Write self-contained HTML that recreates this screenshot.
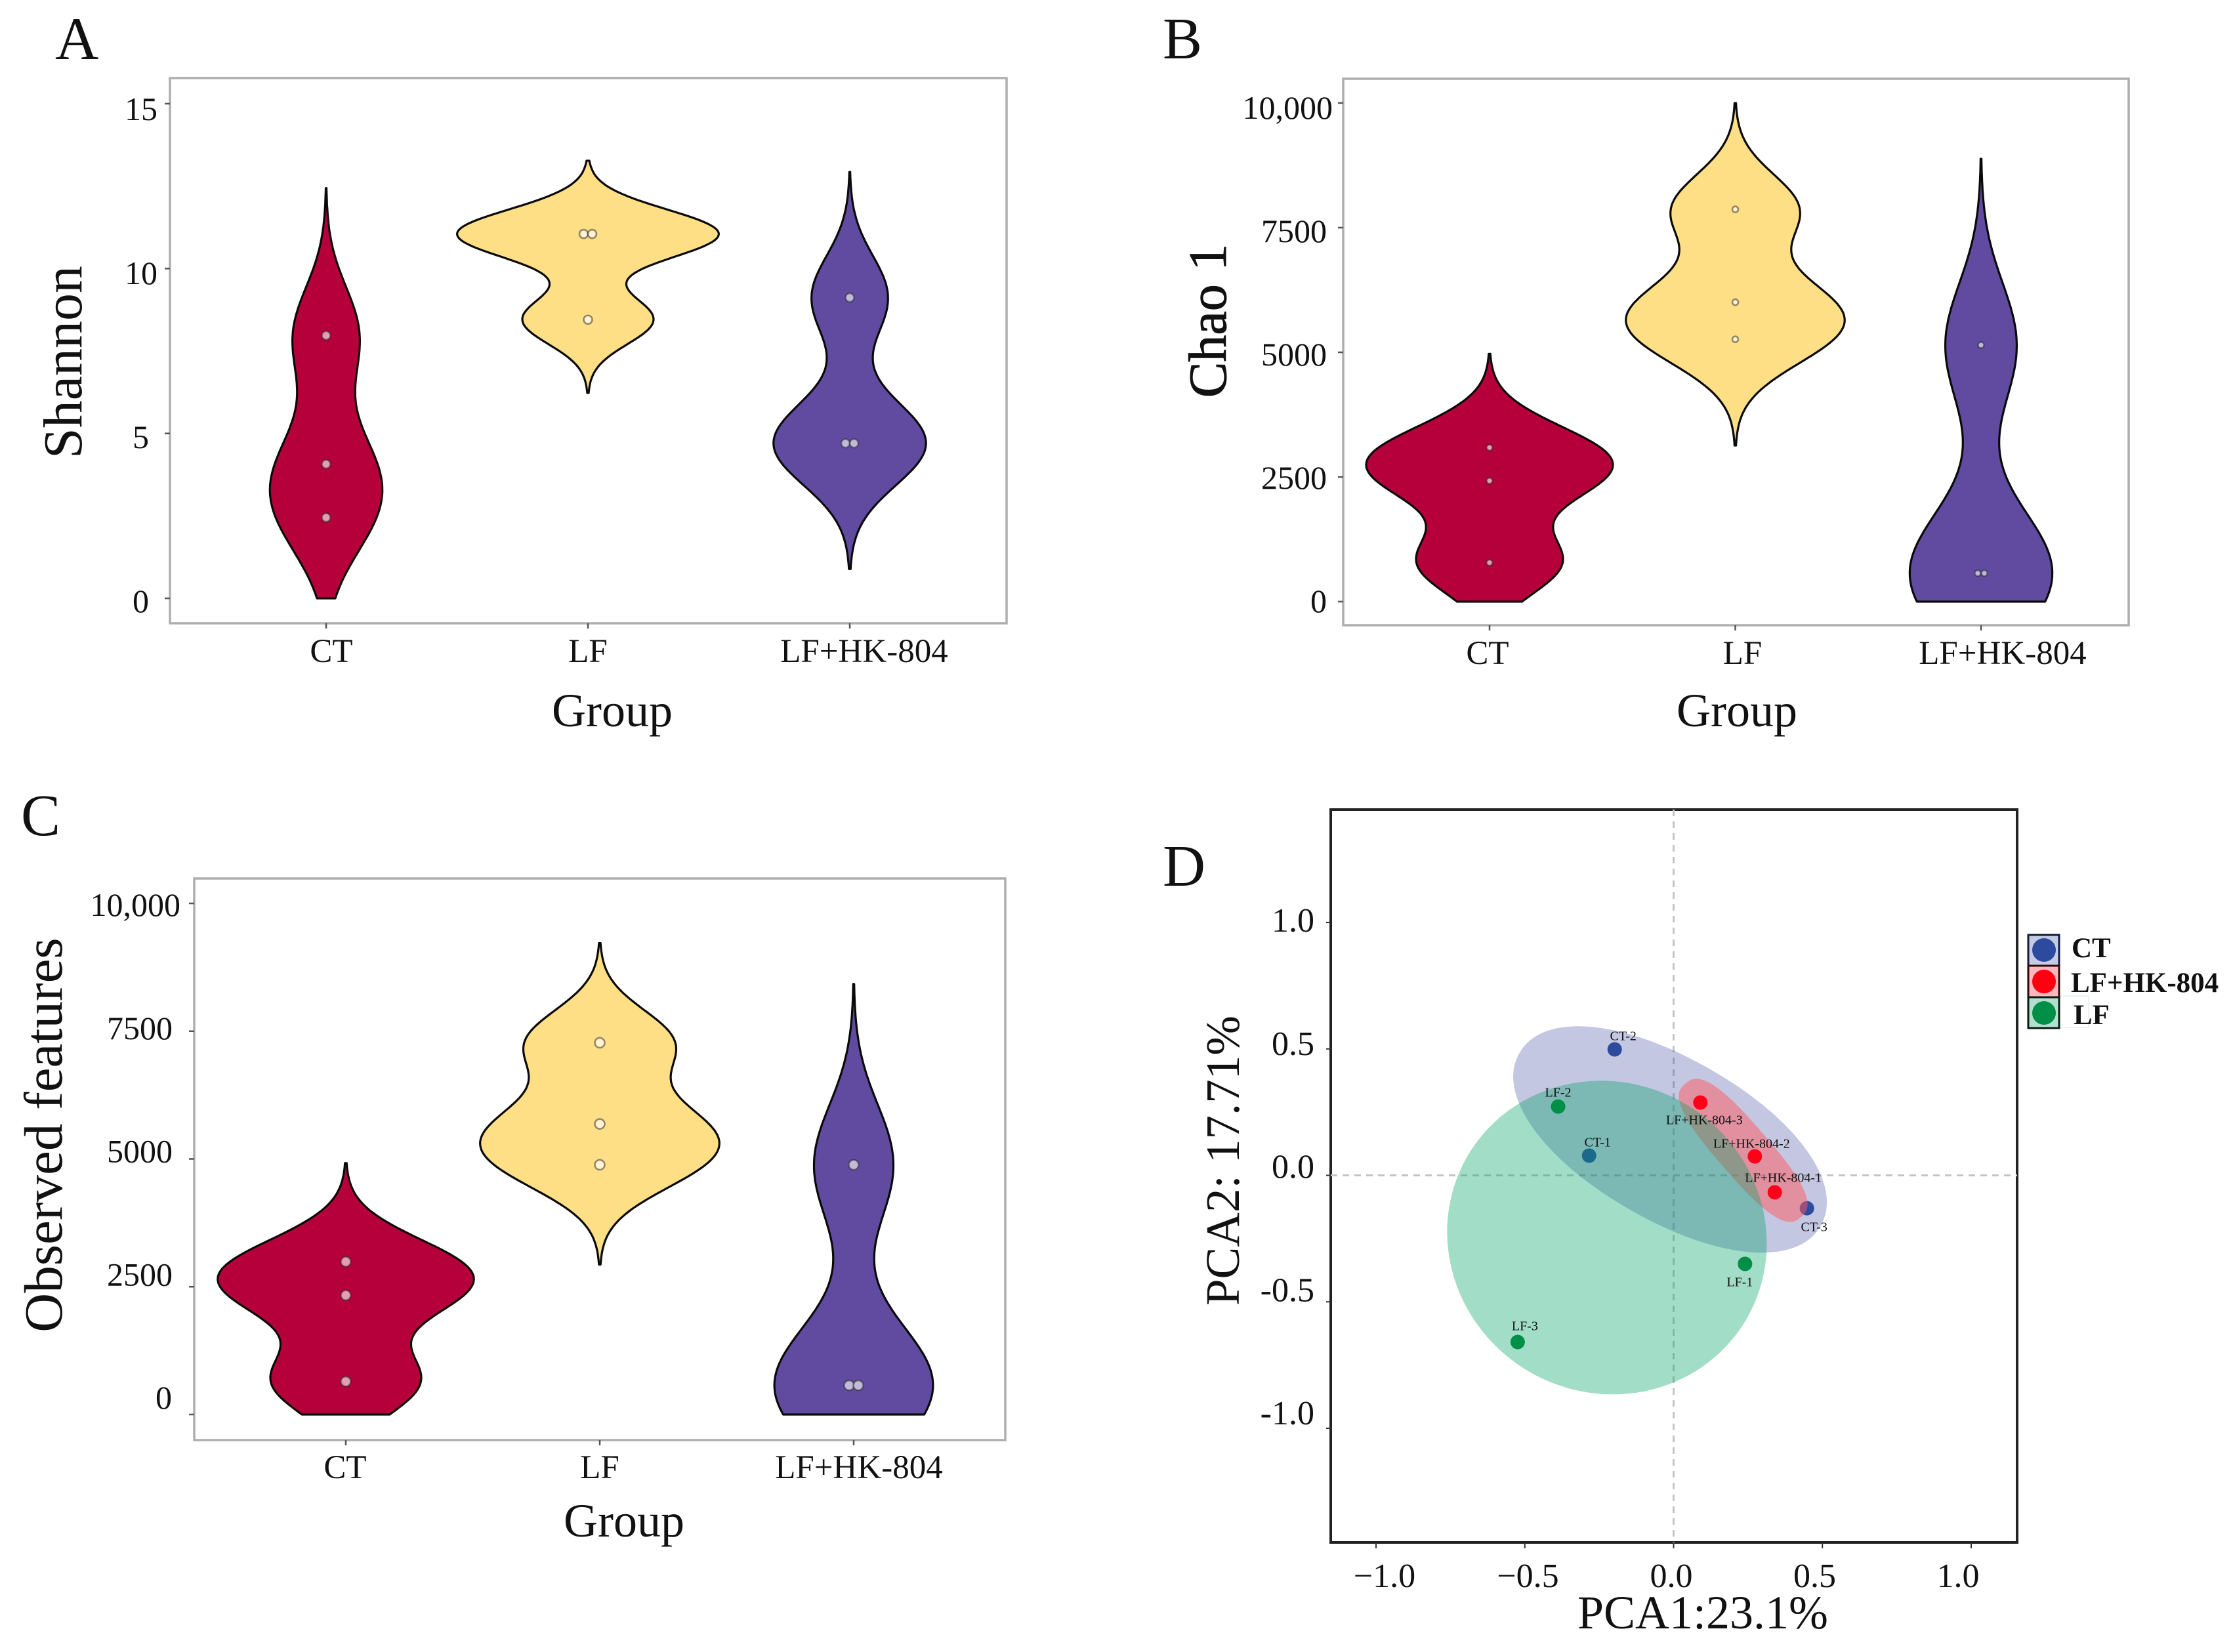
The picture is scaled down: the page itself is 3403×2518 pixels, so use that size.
<!DOCTYPE html>
<html lang="en">
<head>
<meta charset="utf-8">
<title>Alpha diversity violins and PCA</title>
<style>
html,body{margin:0;padding:0;background:#fff;}
svg{display:block;}
text{font-family:"Liberation Serif",serif;fill:#111;}
</style>
</head>
<body>
<svg id="figure" xmlns="http://www.w3.org/2000/svg" width="3403" height="2518" viewBox="0 0 3403 2518">
  <rect x="0" y="0" width="3403" height="2518" fill="#fff"/>

  <text x="84" y="90" font-size="92">A</text>
  <text x="1772" y="89" font-size="90">B</text>
  <text x="32" y="1273" font-size="90">C</text>
  <text x="1772" y="1350" font-size="90">D</text>

  <rect x="259" y="119" width="1275" height="831" fill="#fff" stroke="#aeaeae" stroke-width="3.5"/>
  <rect x="2047" y="120" width="1197" height="833" fill="#fff" stroke="#aeaeae" stroke-width="3.5"/>
  <rect x="296" y="1339" width="1236" height="856" fill="#fff" stroke="#aeaeae" stroke-width="3.5"/>
  <rect x="2028" y="1234" width="1046" height="1117" fill="#fff" stroke="#222" stroke-width="4"/>

  <g id="panel-a"></g>
  <g id="panel-b"></g>
  <g id="panel-c"></g>
  <g id="panel-d"></g>

  <text transform="translate(124,552) rotate(-90)" font-size="84" text-anchor="middle">Shannon</text>
  <text x="933" y="1107" font-size="72" text-anchor="middle">Group</text>
  <text transform="translate(1868,489) rotate(-90)" font-size="82" text-anchor="middle" stroke="#111" stroke-width="1">Chao 1</text>
  <text x="2647" y="1107" font-size="72" text-anchor="middle">Group</text>
  <text transform="translate(94,1730) rotate(-90)" font-size="83" text-anchor="middle">Observed features</text>
  <text x="951" y="2342" font-size="72" text-anchor="middle">Group</text>
  <text transform="translate(1888,1769) rotate(-90)" font-size="73" text-anchor="middle">PCA2: 17.71%</text>
  <text x="2595" y="2482" font-size="72" text-anchor="middle">PCA1:23.1%</text>

  <g>
    <rect x="3139" y="1518" width="44" height="48" fill="none" stroke="#e6eeea" stroke-width="1.5"/>
    <g>
      <rect x="3091" y="1425" width="47" height="47" fill="#c4cbe4" stroke="#141a3c" stroke-width="3"/>
      <circle cx="3115" cy="1448" r="18" fill="#2c4a9e"/>
      <text x="3157" y="1459" font-size="43" font-weight="bold">CT</text>
    </g>
    <g>
      <rect x="3091" y="1472" width="47" height="48" fill="#ffb6bd" stroke="#2a0a0a" stroke-width="3"/>
      <circle cx="3115" cy="1496" r="18" fill="#ff0010"/>
      <text x="3156" y="1512" font-size="43" font-weight="bold">LF+HK-804</text>
    </g>
    <g>
      <rect x="3091" y="1520" width="47" height="47" fill="#b2e0cf" stroke="#0a1a12" stroke-width="3"/>
      <circle cx="3115" cy="1544" r="18" fill="#008f47"/>
      <text x="3160" y="1561" font-size="43" font-weight="bold">LF</text>
    </g>
  </g>
</svg>

<script>
/* ---------- shared categories ---------- */
const categories = ['CT', 'LF', 'LF+HK-804'];

/* ---------- panel A: Shannon ---------- */
const shannonTicks = [15, 10, 5, 0];
const shannonTickLabels = ['15', '10', '5', '0'];
const shannonCtSamples = [7.97, 4.07, 2.45];
const shannonLfSamples = [11.05, 11.05, 8.45];
const shannonHkSamples = [9.12, 4.70, 4.70];
const shannonBandwidths = [1.49, 0.74, 1.27];

/* ---------- panel B: Chao 1 ---------- */
const chaoTicks = [10000, 7500, 5000, 2500, 0];
const chaoTickLabels = ['10,000', '7500', '5000', '2500', '0'];
const chaoCtSamples = [3089, 2423, 782];
const chaoLfSamples = [7867, 6004, 5261];
const chaoHkSamples = [5145, 570, 570];
const chaoBandwidths = [627, 710, 1245];

/* ---------- panel C: Observed features ---------- */
const featureTicks = [10000, 7500, 5000, 2500, 0];
const featureTickLabels = ['10,000', '7500', '5000', '2500', '0'];
const featureCtSamples = [2990, 2333, 646];
const featureLfSamples = [7273, 5685, 4885];
const featureHkSamples = [4885, 570, 570];
const featureBandwidths = [643, 650, 1179];

/* ---------- panel D: PCA ---------- */
const pcaAxisTicks = [-1.0, -0.5, 0.0, 0.5, 1.0];
const pcaXTickLabels = ['\u22121.0', '\u22120.5', '0.0', '0.5', '1.0'];
const pcaYTickLabels = ['-1.0', '-0.5', '0.0', '0.5', '1.0'];
const pcaSampleNames = ['CT-1', 'CT-2', 'CT-3', 'LF+HK-804-1', 'LF+HK-804-2', 'LF+HK-804-3', 'LF-1', 'LF-2', 'LF-3'];
const pcaSampleGroups = ['CT', 'CT', 'CT', 'HK', 'HK', 'HK', 'LF', 'LF', 'LF'];
const pcaSampleX = [-.284, -.198, .448, .340, .273, .090, .240, -.388, -.524];
const pcaSampleY = [.078, .498, -.130, -.067, .075, .288, -.350, .272, -.659];
const ellipseGroups = ['CT', 'HK', 'LF'];
const ellipseCenterX = [-.012, .234, -.224];
const ellipseCenterY = [.142, .099, -.246];
const ellipseSpreadX = [.5237, .205, .537];
const ellipseSpreadY = [.4400, .272, .62];
const ellipseCorrelation = [-.5876, -.84, -.037];
const ellipseRoundness = [.95, .72, 1];

/* ---------- helpers ---------- */
const SVG_NS = 'http://www.w3.org/2000/svg';
function make(tag, parent, attrs) {
  const node = document.createElementNS(SVG_NS, tag);
  for (const key in attrs) node.setAttribute(key, attrs[key]);
  parent.appendChild(node);
  return node;
}
function linear(d0, d1, r0, r1) {
  return function (v) { return r0 + (v - d0) * (r1 - r0) / (d1 - d0); };
}
function slug(text) {
  return String(text).toLowerCase().replace(/[^a-z0-9]+/g, '-').replace(/^-|-$/g, '');
}
/* Gaussian kernel density of a group's samples: the violin's half-width at a value */
function kernelDensity(samples, bandwidth, v) {
  let sum = 0;
  samples.forEach(function (s) {
    const z = (v - s) / bandwidth;
    sum += Math.exp(-0.5 * z * z);
  });
  return sum / bandwidth;
}

const violinColors = ['#b5003c', '#fedf86', '#604ba0'];

function drawViolinPanel(cfg) {
  const root = document.getElementById(cfg.id);
  const y = linear(cfg.ticks[0], cfg.ticks[cfg.ticks.length - 1], cfg.tickTop, cfg.tickBottom);
  const labelY = linear(cfg.ticks[0], cfg.ticks[cfg.ticks.length - 1], cfg.labelTop, cfg.labelBottom);
  const x = linear(0, 2, cfg.x0, cfg.x2);

  cfg.ticks.forEach(function (tick, i) {
    const mark = make('line', root, { x1: cfg.frameLeft - 8, x2: cfg.frameLeft, y1: y(tick), y2: y(tick), stroke: '#555', 'stroke-width': 2.5 });
    
    
    const label = make('text', root, { x: cfg.labelEnd[cfg.labels[i].length], y: labelY(tick) + 16, 'font-size': 50, 'text-anchor': 'end' });
    label.textContent = cfg.labels[i];
    
    
  });

  categories.forEach(function (name, i) {
    const mark = make('line', root, { x1: x(i), x2: x(i), y1: cfg.frameBottom, y2: cfg.frameBottom + 8, stroke: '#555', 'stroke-width': 2.5 });
    
    
    const label = make('text', root, { x: x(i) + cfg.catNudge[i], y: cfg.catBaseline, 'font-size': 51, 'text-anchor': 'middle' });
    label.textContent = name;
    
    

    const samples = cfg.samples[i];
    const bw = cfg.bandwidths[i];
    const hi = Math.max.apply(null, samples) + 3 * bw;
    const lo = Math.max(Math.min.apply(null, samples) - 3 * bw, 0);
    const steps = 160;
    const right = [], left = [];
    for (let k = 0; k <= steps; k++) {
      const v = hi + (lo - hi) * k / steps;
      const half = kernelDensity(samples, bw, v) * cfg.widthScale;
      right.push((x(i) + half).toFixed(1) + ' ' + y(v).toFixed(1));
      left.unshift((x(i) - half).toFixed(1) + ' ' + y(v).toFixed(1));
    }
    const body = make('path', root, { d: 'M' + right.concat(left).join('L') + 'Z', fill: violinColors[i], stroke: '#0a0a0a', 'stroke-width': 3.2, 'stroke-linejoin': 'round' });
    
    

    samples.forEach(function (value, k) {
      const twin = samples.findIndex(function (o, j) { return j !== k && o === value; });
      const shift = twin < 0 ? 0 : (k < twin ? -cfg.spread : cfg.spread);
      const dot = make('circle', root, { cx: x(i) + shift, cy: y(value), r: cfg.dotRadius, fill: 'rgba(255,255,255,.62)', stroke: 'rgba(40,40,40,.5)', 'stroke-width': 2.6 });
      
      
    });
  });
}

drawViolinPanel({
  id: 'panel-a', ticks: shannonTicks, labels: shannonTickLabels,
  tickTop: 158, tickBottom: 912, labelTop: 167, labelBottom: 917,
  frameLeft: 259, frameBottom: 950, x0: 497, x2: 1295,
  labelEnd: { 2: 240, 1: 227 }, catNudge: [8, 0, 22], catBaseline: 1009,
  dotRadius: 6.5, spread: 6.5, widthScale: 73.7,
  samples: [shannonCtSamples, shannonLfSamples, shannonHkSamples],
  bandwidths: shannonBandwidths
});
drawViolinPanel({
  id: 'panel-b', ticks: chaoTicks, labels: chaoTickLabels,
  tickTop: 157, tickBottom: 917, labelTop: 165, labelBottom: 917,
  frameLeft: 2047, frameBottom: 953, x0: 2270, x2: 3019,
  labelEnd: { 6: 2031, 4: 2022, 1: 2022 }, catNudge: [-3, 11, 33], catBaseline: 1012,
  dotRadius: 4.5, spread: 5, widthScale: 67600,
  samples: [chaoCtSamples, chaoLfSamples, chaoHkSamples],
  bandwidths: chaoBandwidths
});
drawViolinPanel({
  id: 'panel-c', ticks: featureTicks, labels: featureTickLabels,
  tickTop: 1377, tickBottom: 2156, labelTop: 1380, labelBottom: 2131,
  frameLeft: 296, frameBottom: 2195, x0: 527, x2: 1301,
  labelEnd: { 6: 275, 4: 263, 1: 262 }, catNudge: [-1, 0, 8], catBaseline: 2253,
  dotRadius: 7.5, spread: 7, widthScale: 71200,
  samples: [featureCtSamples, featureLfSamples, featureHkSamples],
  bandwidths: featureBandwidths
});

/* ---------- PCA panel ---------- */
(function drawPca() {
  const root = document.getElementById('panel-d');
  const x = linear(-1, 1, 2097, 3004);
  const y = linear(-1, 1, 2177, 1406);
  const xLabel = linear(-1, 1, 2110, 2984);
  const yLabel = linear(-1, 1, 2154, 1403);
  const frame = { left: 2028, right: 3074, top: 1234, bottom: 2351 };
  const ellipseFill = { CT: 'rgb(60,70,160)', HK: 'rgb(255,89,92)', LF: 'rgb(0,163,104)' };
  const ellipseAlpha = { CT: .3, HK: .5, LF: .37 };
  const dotFill = { CT: '#2c4a9e', HK: '#ff0018', LF: '#008f47' };
  const labelNudge = [[13, -14], [13, -14], [11, 35], [13, -16], [-5, -13], [6, 33], [-8, 34], [0, -15], [11, -18]];
  const unitX = x(1) - x(0), unitY = y(0) - y(1);

  const hLine = make('line', root, { x1: frame.left, x2: frame.right, y1: y(0), y2: y(0), stroke: '#c4c4c4', 'stroke-width': 3, 'stroke-dasharray': '10 8' });
  
  
  const vLine = make('line', root, { x1: x(0), x2: x(0), y1: frame.top, y2: frame.bottom, stroke: '#c4c4c4', 'stroke-width': 3, 'stroke-dasharray': '10 8' });
  
  

  pcaAxisTicks.forEach(function (tick, i) {
    const xMark = make('line', root, { x1: x(tick), x2: x(tick), y1: frame.bottom, y2: frame.bottom + 9, stroke: '#333', 'stroke-width': 2 });
    
    
    const xText = make('text', root, { x: xLabel(tick), y: 2419, 'font-size': 52, 'text-anchor': 'middle' });
    xText.textContent = pcaXTickLabels[i];
    
    
    const yMark = make('line', root, { x1: frame.left - 7, x2: frame.left, y1: y(tick), y2: y(tick), stroke: '#333', 'stroke-width': 2 });
    
    
    const yText = make('text', root, { x: 2003, y: yLabel(tick) + 17, 'font-size': 52, 'text-anchor': 'end' });
    yText.textContent = pcaYTickLabels[i];
    
    
  });

  function signedPower(value, power) {
    return (value < 0 ? -1 : 1) * Math.pow(Math.abs(value), power);
  }
  function drawEllipse(group) {
    const i = ellipseGroups.indexOf(group);
    const wide = ellipseSpreadX[i] * unitX, tall = ellipseSpreadY[i] * unitY;
    const sxx = wide * wide, syy = tall * tall, sxy = -ellipseCorrelation[i] * wide * tall;
    const mid = (sxx + syy) / 2, dev = Math.hypot((sxx - syy) / 2, sxy);
    const major = Math.sqrt(mid + dev), minor = Math.sqrt(Math.max(mid - dev, 1));
    const angle = 0.5 * Math.atan2(2 * sxy, sxx - syy);
    const cx = x(ellipseCenterX[i]), cy = y(ellipseCenterY[i]);
    const pts = [];
    for (let k = 0; k < 180; k++) {
      const t = k / 180 * Math.PI * 2;
      const u = major * signedPower(Math.cos(t), ellipseRoundness[i]);
      const v = minor * signedPower(Math.sin(t), ellipseRoundness[i]);
      const px = cx + u * Math.cos(angle) - v * Math.sin(angle);
      const py = cy + u * Math.sin(angle) + v * Math.cos(angle);
      pts.push(px.toFixed(1) + ',' + py.toFixed(1));
    }
    const shape = make('polygon', root, { points: pts.join(' '), fill: ellipseFill[group], 'fill-opacity': ellipseAlpha[group] });
    
    
  }
  function drawDots(group) {
    pcaSampleNames.forEach(function (name, i) {
      if (pcaSampleGroups[i] !== group) return;
      const dot = make('circle', root, { cx: x(pcaSampleX[i]), cy: y(pcaSampleY[i]), r: 11, fill: dotFill[group] });
      
      
    });
  }

  drawEllipse('CT');
  drawDots('CT');
  drawEllipse('HK');
  drawDots('HK');
  drawEllipse('LF');
  drawDots('LF');

  pcaSampleNames.forEach(function (name, i) {
    const label = make('text', root, { x: x(pcaSampleX[i]) + labelNudge[i][0], y: y(pcaSampleY[i]) + labelNudge[i][1], 'font-size': 20, 'text-anchor': 'middle' });
    label.textContent = name;
    
    
  });
})();
</script>
</body>
</html>
